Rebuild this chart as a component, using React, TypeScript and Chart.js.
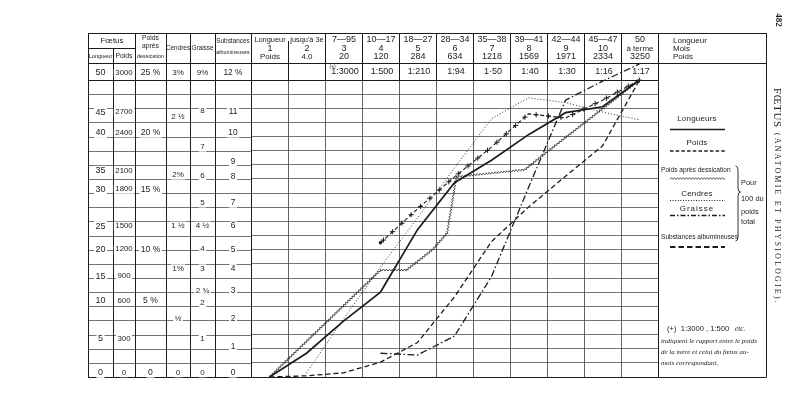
import React, { useEffect, useRef } from "react";
import { Chart, registerables } from "chart.js";

Chart.register(...registerables);

// ---------------- data ----------------
const months = [1, 2, 3, 4, 5, 6, 7, 8, 9, 10, 11];
const lengthRanges = ["Longueur", "jusqu'à 3e", "7—95", "10—17", "18—27", "28—34", "35—38", "39—41", "42—44", "45—47", "50"];
const monthNames = ["1", "2", "3", "4", "5", "6", "7", "8", "9", "10", "à terme"];
const weights = ["Poids", "4.0", "20", "120", "284", "634", "1218", "1569", "1971", "2334", "3250"];
const ratios = ["", "", "1:3000", "1:500", "1:210", "1:94", "1·50", "1:40", "1:30", "1:16", "1:17"];

const seriesNames = ["Longueurs", "Poids", "Poids après dessication", "Cendres", "Graisse", "Substances albumineuses"];
const longueurs = [0, 4.0, 9.4, 14.3, 24.8, 32.7, 36.5, 40.8, 44.5, 45.5, 50];
const poids = [0, 0.2, 0.7, 2.5, 5.8, 13.5, 22.8, 28.6, 33.8, 38.9, 50];
const cendres = [null, 0.7, 9.8, 18.5, 26.8, 35.2, 43.5, 47.0, 46.2, 44.6, 43.3];
const graisse = [null, null, null, 4.0, 3.7, 6.9, 16.9, 31.9, 46.6, 49.8, 52.7];
const substances = [null, null, null, 22.6, 28.3, 33.7, 38.7, 44.3, 43.6, 46.6, 50];
const dessicationMonths = [1, 4, 4.7, 5.4, 5.8, 6.05, 7.9, 8.4, 11];
const dessicationValues = [0, 18.0, 18.0, 21.4, 24.2, 33.7, 34.9, 37.4, 50];

// left table scales
const longueurTicks = ["50", "45", "40", "35", "30", "25", "20", "15", "10", "5", "0"];
const poidsTicks = ["3000", "2700", "2400", "2100", "1800", "1500", "1200", "900", "600", "300", "0"];
const dessicationTicks = ["25 %", "20 %", "15 %", "10 %", "5 %", "0"];
const cendresTicks = ["3%", "2 ½", "2%", "1 ½", "1%", "½", "0"];
const graisseTicks = ["9%", "8", "7", "6", "5", "4 ½", "4", "3", "2 ¾", "2", "1", "0"];
const substancesTicks = ["12 %", "11", "10", "9", "8", "7", "6", "5", "4", "3", "2", "1", "0"];

// layout: row of each label (in chart value units)
const longueurRows = [51.2, 44.6, 41.1, 34.7, 31.6, 25.4, 21.5, 17.0, 12.8, 6.4, 0.7];
const dessicationRows = [51.2, 41.1, 31.6, 21.5, 12.8, 0.7];
const cendresRows = [51.2, 43.8, 34.0, 25.4, 18.2, 9.8, 0.7];
const graisseRows = [51.2, 44.8, 38.7, 33.8, 29.3, 25.4, 21.5, 18.2, 14.5, 12.5, 6.4, 0.7];
const substancesRows = [51.2, 44.6, 41.1, 36.2, 33.8, 29.3, 25.4, 21.5, 18.2, 14.5, 9.8, 5.1, 0.7];

const legendSide = ["Pour", "100 du", "poids", "total"];
const footnote = ["indiquent le rapport entre le poids", "de la mère et celui du fœtus au-", "mois correspondant."];

// ---------------- drawing helpers ----------------
const INK = "#1c1c1c";
const GRID = "#505050";
const SANS = "'Liberation Sans', Arial, sans-serif";
const SERIF = "'Liberation Serif', 'Times New Roman', serif";

function line(ctx: any, x0: number, y0: number, x1: number, y1: number) {
  ctx.beginPath();
  ctx.moveTo(x0, y0);
  ctx.lineTo(x1, y1);
  ctx.stroke();
}

function txt(ctx: any, s: string, x: number, y: number, size: number, o: any = {}) {
  ctx.save();
  ctx.font = `${o.italic ? "italic " : ""}${o.bold ? "bold " : ""}${size}px ${o.family || SANS}`;
  ctx.textAlign = o.align || "center";
  ctx.textBaseline = "middle";
  if (o.spacing) ctx.letterSpacing = o.spacing + "px";
  if (o.bg) {
    const w = ctx.measureText(s).width;
    let left = x - w / 2;
    if (ctx.textAlign === "left") left = x;
    if (ctx.textAlign === "right") left = x - w;
    ctx.fillStyle = "#ffffff";
    ctx.fillRect(left - 1.5, y - size / 2 - 0.5, w + 3, size + 1);
  }
  ctx.fillStyle = o.color || INK;
  ctx.fillText(s, x, y);
  ctx.restore();
}

function zigzag(ctx: any, pts: number[][], amp: number, step: number) {
  ctx.beginPath();
  let first = true;
  let k = 0;
  for (let i = 0; i < pts.length - 1; i++) {
    const [x0, y0] = pts[i];
    const [x1, y1] = pts[i + 1];
    const dx = x1 - x0, dy = y1 - y0;
    const L = Math.hypot(dx, dy);
    if (L === 0) continue;
    const ux = dx / L, uy = dy / L, nx = -uy, ny = ux;
    for (let t = 0; t < L; t += step) {
      const off = k++ % 2 === 0 ? amp : -amp;
      const px = x0 + ux * t + nx * off, py = y0 + uy * t + ny * off;
      if (first) { ctx.moveTo(px, py); first = false; } else ctx.lineTo(px, py);
    }
  }
  const last = pts[pts.length - 1];
  ctx.lineTo(last[0], last[1]);
  ctx.stroke();
}

function crossesAlong(ctx: any, pts: number[][], spacing: number, arm: number) {
  ctx.beginPath();
  let next = 4;
  let travelled = 0;
  for (let i = 0; i < pts.length - 1; i++) {
    const [x0, y0] = pts[i];
    const [x1, y1] = pts[i + 1];
    const L = Math.hypot(x1 - x0, y1 - y0);
    while (L > 0 && next <= travelled + L) {
      const t = (next - travelled) / L;
      const cx = x0 + (x1 - x0) * t, cy = y0 + (y1 - y0) * t;
      ctx.moveTo(cx - arm, cy); ctx.lineTo(cx + arm, cy);
      ctx.moveTo(cx, cy - arm); ctx.lineTo(cx, cy + arm);
      next += spacing;
    }
    travelled += L;
  }
  ctx.stroke();
}

function sample(ctx: any, style: string, x0: number, x1: number, y: number) {
  ctx.save();
  ctx.strokeStyle = INK;
  ctx.setLineDash([]);
  if (style === "solid") { ctx.lineWidth = 1.6; line(ctx, x0, y, x1, y); }
  if (style === "dashed") { ctx.lineWidth = 1.4; ctx.setLineDash([3.5, 2.2]); line(ctx, x0, y, x1, y); }
  if (style === "wavy") { ctx.lineWidth = 0.7; zigzag(ctx, [[x0, y], [x1, y]], 0.9, 1.5); }
  if (style === "dotted") { ctx.lineWidth = 1; ctx.setLineDash([1, 1.6]); line(ctx, x0, y, x1, y); }
  if (style === "dashdot") { ctx.lineWidth = 1.4; ctx.setLineDash([5, 2, 1.5, 2]); line(ctx, x0, y, x1, y); }
  if (style === "heavy") { ctx.lineWidth = 2; ctx.setLineDash([5.5, 3]); line(ctx, x0, y, x1, y); }
  ctx.restore();
}

const pointsOf = (values: (number | null)[]) =>
  months.map((m, i) => ({ x: m, y: values[i] })).filter((p) => p.y !== null);

// ---------------- frame geometry ----------------
const FRAME_L = 88, FRAME_R = 766, TOP = 33, HEAD = 63;
const leftCols = [88, 113, 135, 166, 190, 215, 251];
const leftCenters = [100.5, 124, 150.5, 178, 202.5, 233];

const tablePlugin = {
  id: "foetusTable",
  beforeDraw(chart: any) {
    const ctx = chart.ctx;
    ctx.save();
    ctx.fillStyle = "#ffffff";
    ctx.fillRect(0, 0, chart.width, chart.height);
    ctx.restore();
  },
  afterDatasetsDraw(chart: any) {
    const ctx = chart.ctx;
    chart.data.datasets.forEach((ds: any, i: number) => {
      const meta = chart.getDatasetMeta(i);
      const pts = meta.data.map((e: any) => [e.x, e.y]);
      ctx.save();
      ctx.strokeStyle = INK;
      if (ds.lineStyle === "wavy") { ctx.lineWidth = 0.75; zigzag(ctx, pts, 0.95, 1.5); }
      if (ds.lineStyle === "crosses") { ctx.lineWidth = 1; crossesAlong(ctx, pts, 12.5, 2.6); }
      ctx.restore();
    });
  },
  afterDraw(chart: any) {
    const ctx = chart.ctx;
    const ca = chart.chartArea;
    const xs = chart.scales.x;
    const ys = chart.scales.y;
    const colEdges = [];
    for (let k = 0; k <= months.length; k++) colEdges.push(Math.round(xs.getPixelForValue(k + 0.5)) + 0.5);
    const legendL = colEdges[colEdges.length - 1];
    const bottom = Math.round(ca.bottom) + 0.5;
    const gridTop = Math.round(ca.top) + 0.5;

    ctx.save();
    // grid rows continue through the left table
    ctx.strokeStyle = GRID;
    ctx.lineWidth = 0.8;
    ys.ticks.forEach((t: any) => {
      const y = Math.round(ys.getPixelForValue(t.value)) + 0.5;
      line(ctx, FRAME_L, y, leftCols[6], y);
    });

    // frame
    ctx.strokeStyle = INK;
    ctx.lineWidth = 1;
    line(ctx, FRAME_L, TOP + 0.5, FRAME_R, TOP + 0.5);
    line(ctx, FRAME_L, HEAD + 0.5, FRAME_R, HEAD + 0.5);
    line(ctx, FRAME_L, gridTop, legendL, gridTop);
    line(ctx, FRAME_L, bottom, FRAME_R, bottom);
    line(ctx, FRAME_L, 48.5, leftCols[2], 48.5);
    leftCols.forEach((x, i) => line(ctx, x + 0.5, i === 1 ? 48.5 : TOP, x + 0.5, bottom));
    colEdges.forEach((x, i) => line(ctx, x, i === 1 ? 41 : TOP, x, gridTop));
    line(ctx, legendL, TOP, legendL, bottom);
    line(ctx, FRAME_R + 0.5, TOP, FRAME_R + 0.5, bottom);
    ctx.restore();

    // left table header
    txt(ctx, "Fœtus", 112, 40.5, 8);
    txt(ctx, "Longueur", leftCenters[0], 56.5, 5.6);
    txt(ctx, "Poids", leftCenters[1], 56.5, 6.8);
    txt(ctx, "Poids", leftCenters[2], 38.5, 6.8);
    txt(ctx, "après", leftCenters[2], 46, 6.8);
    txt(ctx, "dessication", leftCenters[2], 57, 5.4);
    txt(ctx, "Cendres", leftCenters[3], 48.5, 6.4);
    txt(ctx, "Graisse", leftCenters[4], 48.5, 6.4);
    txt(ctx, "Substances", leftCenters[5], 41, 6.4);
    txt(ctx, "albumineuses", leftCenters[5], 52.5, 5.4);

    // left table labels
    const cols: [string[], number[], number][] = [
      [longueurTicks, longueurRows, 9],
      [poidsTicks, longueurRows, 7.8],
      [dessicationTicks, dessicationRows, 8.6],
      [cendresTicks, cendresRows, 8],
      [graisseTicks, graisseRows, 8],
      [substancesTicks, substancesRows, 8.4],
    ];
    cols.forEach(([labels, rows, size], c) => {
      labels.forEach((s, j) => {
        txt(ctx, s, leftCenters[c], ys.getPixelForValue(rows[j]), size, { bg: true });
      });
    });

    // month header
    months.forEach((m, k) => {
      const cx = (colEdges[k] + colEdges[k + 1]) / 2;
      const small = k < 2;
      txt(ctx, lengthRanges[k], cx, 40, small ? 7.4 : 9);
      txt(ctx, monthNames[k], cx, 48.5, k === 10 ? 8 : 9);
      txt(ctx, weights[k], cx, 57, small ? 8 : 9);
      if (ratios[k]) txt(ctx, ratios[k], cx + 1, 71.5, 9);
    });
    txt(ctx, "(+)", colEdges[2] + 4, 66.5, 5, { align: "left" });

    // legend column header
    txt(ctx, "Longueur", 673, 41, 8, { align: "left" });
    txt(ctx, "Mois", 673, 48.5, 8, { align: "left" });
    txt(ctx, "Poids", 673, 56.5, 8, { align: "left" });

    // legend
    const styles = ["solid", "dashed", "wavy", "dotted", "dashdot", "heavy"];
    const legendTextY = [119, 143, 170.5, 194, 208.5, 237.5];
    const legendLineY = [129.5, 151, 178.5, 200.5, 215.5, 247];
    seriesNames.forEach((name, i) => {
      if (i === 2 || i === 5) txt(ctx, name, 661, legendTextY[i], 6.6, { align: "left" });
      else txt(ctx, name, 697, legendTextY[i], 8, { spacing: i === 4 ? 1 : 0.2 });
      sample(ctx, styles[i], 670, 725, legendLineY[i]);
    });
    // brace
    ctx.save();
    ctx.strokeStyle = INK;
    ctx.lineWidth = 0.9;
    const bx = 737.5, bt = 166, bm = 192, bb = 241;
    ctx.beginPath();
    ctx.moveTo(bx - 2, bt);
    ctx.quadraticCurveTo(bx + 0.5, bt, bx + 0.5, bt + 4);
    ctx.lineTo(bx + 0.5, bm - 4);
    ctx.quadraticCurveTo(bx + 0.5, bm, bx + 3, bm);
    ctx.quadraticCurveTo(bx + 0.5, bm, bx + 0.5, bm + 4);
    ctx.lineTo(bx + 0.5, bb - 4);
    ctx.quadraticCurveTo(bx + 0.5, bb, bx - 2, bb);
    ctx.stroke();
    ctx.restore();
    const sideY = [183, 199, 212, 221.5];
    legendSide.forEach((s, i) => txt(ctx, s, 741, sideY[i], 7.4, { align: "left" }));

    // footnote
    txt(ctx, "(+)  1:3000 , 1:500", 667, 329, 7.6, { align: "left" });
    txt(ctx, "etc.", 735, 329.5, 7.4, { align: "left", italic: true, family: SERIF });
    footnote.forEach((s, i) => txt(ctx, s, 661, 341 + i * 11.2, 7, { align: "left", italic: true, family: SERIF }));

    // running head (rotated)
    ctx.save();
    ctx.translate(778, 0);
    ctx.rotate(Math.PI / 2);
    txt(ctx, "482", 20, 0, 9, { family: SERIF, bold: true });
    txt(ctx, "FŒTUS", 88, 1, 11, { family: SERIF, align: "left", spacing: 0.6 });
    txt(ctx, "(ANATOMIE ET PHYSIOLOGIE).", 133, 1.5, 7.6, { family: SERIF, align: "left", spacing: 2.4 });
    ctx.restore();
  },
};

export default function App() {
  const ref = useRef<HTMLCanvasElement>(null);
  useEffect(() => {
    if (!ref.current) return;
    const base = { borderColor: INK, pointRadius: 0, tension: 0, fill: false, clip: false };
    const chart = new Chart(ref.current, {
      type: "line",
      data: {
        datasets: [
          { ...base, label: seriesNames[0], data: pointsOf(longueurs), borderWidth: 1.7 },
          { ...base, label: seriesNames[1], data: pointsOf(poids), borderWidth: 1.3, borderDash: [5, 3] },
          {
            ...base,
            label: seriesNames[2],
            data: dessicationMonths.map((m, i) => ({ x: m, y: dessicationValues[i] })),
            borderColor: "rgba(0,0,0,0)",
            borderWidth: 1,
            lineStyle: "wavy",
          },
          { ...base, label: seriesNames[3], data: pointsOf(cendres), borderWidth: 0.9, borderDash: [1, 2] },
          { ...base, label: seriesNames[4], data: pointsOf(graisse), borderWidth: 1.3, borderDash: [7, 2.5, 1.5, 2.5] },
          {
            ...base,
            label: seriesNames[5],
            data: pointsOf(substances),
            borderWidth: 1.1,
            borderDash: [4, 2.5],
            lineStyle: "crosses",
            pointRadius: (c: any) => (c.dataIndex === 0 ? 1.8 : 0),
            pointBackgroundColor: INK,
            pointBorderWidth: 0,
          },
        ] as any,
      },
      options: {
        animation: false,
        responsive: false,
        devicePixelRatio: 1,
        layout: { padding: { left: 251, right: 142, top: 80, bottom: 19 } },
        plugins: { legend: { display: false }, tooltip: { enabled: false } },
        scales: {
          x: {
            type: "linear",
            min: 0.5,
            max: 11.5,
            afterBuildTicks: (s: any) => { s.ticks = months.concat([12]).map((m) => ({ value: m - 0.5 })); },
            ticks: { display: false },
            grid: { color: GRID, lineWidth: 0.9, drawTicks: false },
            border: { display: true, color: INK },
          },
          y: {
            type: "linear",
            min: 0,
            max: 50,
            afterBuildTicks: (s: any) => {
              const t = [];
              for (let i = 0; i <= 21; i++) t.push({ value: (i * 50) / 21 });
              s.ticks = t;
            },
            ticks: { display: false },
            grid: { color: GRID, lineWidth: 0.8, drawTicks: false },
            border: { display: true, color: INK },
          },
        },
      } as any,
      plugins: [tablePlugin],
    });
    return () => chart.destroy();
  }, []);
  return (
    <div style={{ position: "fixed", left: 0, top: 0, width: 800, height: 396, background: "#fff" }}>
      <canvas ref={ref} width={800} height={396} style={{ display: "block", width: 800, height: 396 }} />
    </div>
  );
}
